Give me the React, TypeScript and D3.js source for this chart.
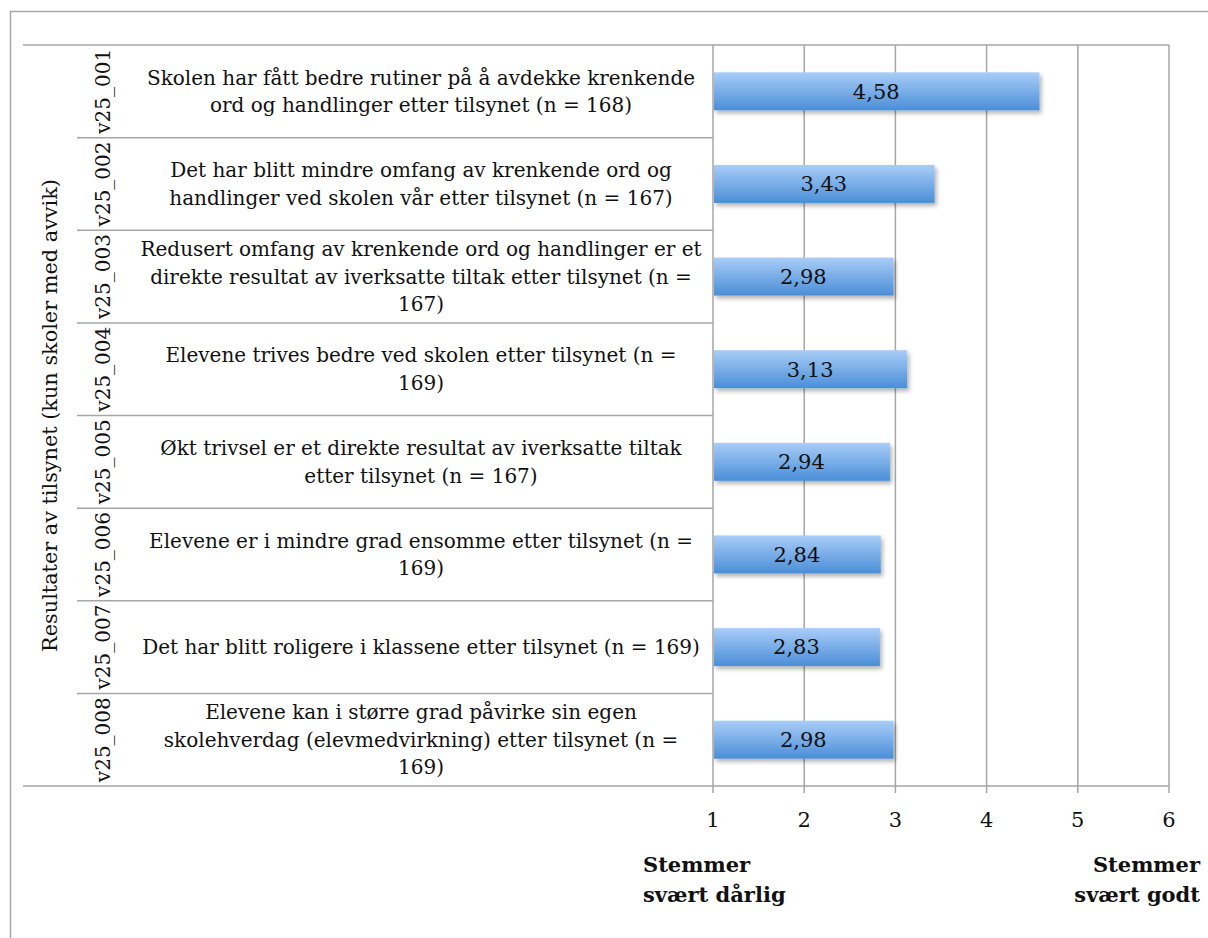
import React from "react";
import * as d3 from "d3";

const codes = ["v25_001", "v25_002", "v25_003", "v25_004", "v25_005", "v25_006", "v25_007", "v25_008"];
const labels = [
  ["Skolen har fått bedre rutiner på å avdekke krenkende", "ord og handlinger etter tilsynet (n = 168)"],
  ["Det har blitt mindre omfang av krenkende ord og", "handlinger ved skolen vår etter tilsynet (n = 167)"],
  ["Redusert omfang av krenkende ord og handlinger er et", "direkte resultat av iverksatte tiltak etter tilsynet (n =", "167)"],
  ["Elevene trives bedre ved skolen etter tilsynet (n =", "169)"],
  ["Økt trivsel er et direkte resultat av iverksatte tiltak", "etter tilsynet (n = 167)"],
  ["Elevene er i mindre grad ensomme etter tilsynet (n =", "169)"],
  ["Det har blitt roligere i klassene etter tilsynet (n = 169)"],
  ["Elevene kan i større grad påvirke sin egen", "skolehverdag (elevmedvirkning) etter tilsynet (n =", "169)"],
];
const values = [4.58, 3.43, 2.98, 3.13, 2.94, 2.84, 2.83, 2.98];
const ticks = [1, 2, 3, 4, 5, 6];
const groupTitle = "Resultater av tilsynet (kun skoler med avvik)";
const lowLabel = ["Stemmer", "svært dårlig"];
const highLabel = ["Stemmer", "svært godt"];

const W = 1208, H = 938;
const top = 45, bottom = 786;
const colA = 23, colB = 77, colC = 129, plotL = 713, plotR = 1169;
const font = "'DejaVu Serif', 'Liberation Serif', serif";
const grid = "#a6a6a6";

export default function App() {
  const x = d3.scaleLinear().domain([1, 6]).range([plotL, plotR]);
  const y = d3.scaleBand<string>().domain(codes).range([top, bottom]);
  const bw = y.bandwidth();
  const barH = bw * 0.41;
  const lineH = 27.5;
  const fmt = (v: number) => d3.format(".2f")(v).replace(".", ",");

  return (
    <svg width={W} height={H} style={{ position: "absolute", left: 0, top: 0 }} fontFamily={font}>
      <defs>
        <linearGradient id="barGrad" x1="0" y1="0" x2="0" y2="1">
          <stop offset="0%" stopColor="#a9cdf7" />
          <stop offset="100%" stopColor="#4a8ed8" />
        </linearGradient>
        <filter id="shadow" x="-5%" y="-20%" width="115%" height="160%">
          <feDropShadow dx="2" dy="3" stdDeviation="2" floodColor="#000" floodOpacity="0.3" />
        </filter>
      </defs>
      <rect x={0} y={0} width={W} height={H} fill="#fff" />
      <rect x={10.5} y={11.5} width={W + 20} height={H + 20} fill="none" stroke={grid} strokeWidth={1.5} />

      {/* gridlines + ticks */}
      {ticks.map(t => (
        <line key={t} x1={x(t)} x2={x(t)} y1={top} y2={bottom + 7} stroke={grid} strokeWidth={1.5} />
      ))}

      {/* category table lines */}
      <line x1={colA} x2={plotR} y1={top} y2={top} stroke={grid} strokeWidth={1.5} />
      <line x1={colA} x2={plotR} y1={bottom} y2={bottom} stroke={grid} strokeWidth={1.5} />
      {codes.slice(1).map(c => (
        <line key={c} x1={colB} x2={plotL} y1={y(c)!} y2={y(c)!} stroke={grid} strokeWidth={1.5} />
      ))}

      {/* bars */}
      {codes.map((c, i) => {
        const yc = y(c)! + bw / 2;
        return (
          <g key={c}>
            <rect x={x(1) + 1} y={yc - barH / 2} width={x(values[i]) - x(1) - 1} height={barH}
              fill="url(#barGrad)" filter="url(#shadow)" />
            <text x={(x(1) + x(values[i])) / 2} y={yc} dy="0.35em" textAnchor="middle" fontSize={21} fill="#111">
              {fmt(values[i])}
            </text>
          </g>
        );
      })}

      {/* category labels */}
      {codes.map((c, i) => {
        const yc = y(c)! + bw / 2;
        const lines = labels[i];
        const start = yc - ((lines.length - 1) * lineH) / 2;
        return (
          <g key={c}>
            <text transform={`translate(${(colB + colC) / 2},${yc}) rotate(-90)`} dy="0.35em"
              textAnchor="middle" fontSize={20} fill="#111">{c}</text>
            <text textAnchor="middle" fontSize={20} fill="#111">
              {lines.map((l, j) => (
                <tspan key={j} x={(colC + plotL) / 2} y={start + j * lineH} dy="0.35em">{l}</tspan>
              ))}
            </text>
          </g>
        );
      })}

      <text transform={`translate(${(colA + colB) / 2},${(top + bottom) / 2}) rotate(-90)`} dy="0.35em"
        textAnchor="middle" fontSize={20.8} fill="#111">{groupTitle}</text>

      {/* tick labels */}
      {ticks.map(t => (
        <text key={t} x={x(t)} y={820} dy="0.35em" textAnchor="middle" fontSize={21} fill="#111">{t}</text>
      ))}

      <text fontSize={21} fontWeight="bold" fill="#111">
        {lowLabel.map((l, j) => (
          <tspan key={j} x={643} y={865 + j * 30} dy="0.35em">{l}</tspan>
        ))}
      </text>
      <text fontSize={21} fontWeight="bold" fill="#111" textAnchor="end">
        {highLabel.map((l, j) => (
          <tspan key={j} x={1200} y={865 + j * 30} dy="0.35em">{l}</tspan>
        ))}
      </text>
    </svg>
  );
}
